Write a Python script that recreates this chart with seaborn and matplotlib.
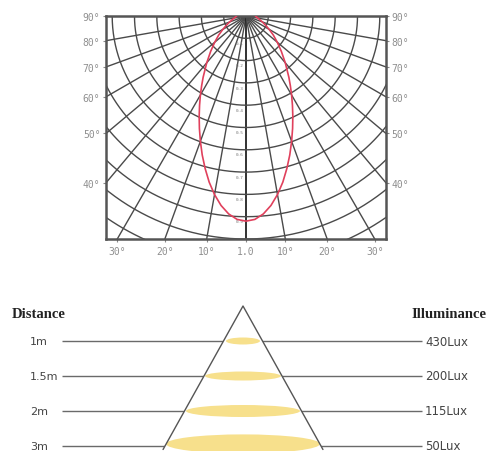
import numpy as np
import pandas as pd
import matplotlib
matplotlib.use("Agg")
import matplotlib.pyplot as plt
from matplotlib.patches import Ellipse, Polygon
import seaborn as sns

# ---------------- data ----------------
# relative luminous intensity (polar curve)
angles_deg = [0, 2.5, 5, 7.5, 10, 12.5, 15, 17.5, 20, 22.5, 25, 27.5, 30, 32.5,
              35, 40, 45, 50, 55, 60, 65, 70, 75, 80, 85, 90]
intensity = [0.920, 0.913, 0.891, 0.857, 0.813, 0.763, 0.708, 0.653, 0.598,
             0.546, 0.497, 0.451, 0.409, 0.370, 0.335, 0.274, 0.224, 0.183,
             0.150, 0.120, 0.096, 0.078, 0.064, 0.054, 0.047, 0.042]

side_tick_angles = [90, 80, 70, 60, 50, 40]
side_tick_labels = ["90°", "80°", "70°", "60°", "50°", "40°"]
bottom_tick_angles = [-30, -20, -10, 0, 10, 20, 30]
bottom_tick_labels = ["30°", "20°", "10°", "1.0", "10°", "20°", "30°"]
grid_angles = [-80, -70, -60, -50, -40, -30, -20, -10, 0, 10, 20, 30, 40, 50, 60, 70, 80]
grid_radii = [0.1, 0.2, 0.3, 0.4, 0.5, 0.6, 0.7, 0.8, 0.9, 1.0, 1.1]
center_labels = ["0.1", "0.2", "0.3", "0.4", "0.5", "0.6", "0.7", "0.8", "0.9"]

distances = ["1m", "1.5m", "2m", "3m"]
illuminance = ["430Lux", "200Lux", "115Lux", "50Lux"]
spot_width = [34, 76, 114, 154]      # px
spot_height = [7, 9, 12, 19]         # px

# ---------------- style ----------------
sns.set_theme(style="white")
plt.rcParams["font.family"] = ["DejaVu Sans"]

W, H = 490, 452
fig = plt.figure(figsize=(W / 100, H / 100), dpi=100)
fig.patch.set_facecolor("white")

# ---------------- top: polar candela diagram ----------------
half_w = 140 / 223
ax = fig.add_axes([106 / W, 1 - 240 / H, 280 / W, 223 / H])
ax.set_xlim(-half_w, half_w)
ax.set_ylim(-1.0, 0.0)
ax.set_facecolor("white")

grid_col = "#4a4a4a"
for a in grid_angles:
    t = np.radians(a)
    lw = 1.3 if a == 0 else 1.0
    c = "#222222" if a == 0 else grid_col
    ax.plot([0, 2 * np.sin(t)], [0, -2 * np.cos(t)], color=c, lw=lw, zorder=1)
tt = np.radians(np.linspace(-90, 90, 361))
for r in grid_radii:
    ax.plot(r * np.sin(tt), -r * np.cos(tt), color=grid_col, lw=1.0, zorder=1)

for r, lab in zip(grid_radii, center_labels):
    ax.text(-0.012, -r - 0.012, lab, fontsize=3.2, color="#777777",
            ha="right", va="top", family="DejaVu Sans Mono", zorder=2)

# polar curve (mirrored)
th = [-a for a in angles_deg[::-1]] + angles_deg[1:]
rr = intensity[::-1] + intensity[1:]
curve = pd.DataFrame({
    "x": [r * np.sin(np.radians(a)) for a, r in zip(th, rr)],
    "y": [-r * np.cos(np.radians(a)) for a, r in zip(th, rr)],
})
sns.lineplot(data=curve, x="x", y="y", sort=False, estimator=None,
             color="#e0405c", lw=1.2, ax=ax, zorder=3)
ax.set_xlabel("")
ax.set_ylabel("")

# ticks
side_y = [0.0 if a == 90 else -half_w / np.tan(np.radians(a)) for a in side_tick_angles]
ax.set_yticks(side_y)
ax.set_yticklabels(side_tick_labels)
ax.set_xticks([np.tan(np.radians(a)) for a in bottom_tick_angles])
ax.set_xticklabels(bottom_tick_labels)
ax.tick_params(axis="both", which="both", length=2, width=0.8, color="#888888",
               labelsize=7, labelcolor="#8f8f8f", pad=2,
               left=True, right=True, bottom=True, labelright=True, labelleft=True)
ax.tick_params(axis="x", pad=3)
for lab in ax.get_xticklabels() + ax.get_yticklabels():
    lab.set_family("DejaVu Sans Mono")
for s in ax.spines.values():
    s.set_color("#555555")
    s.set_linewidth(1.8)
    s.set_visible(True)

# ---------------- bottom: illuminance pyramid ----------------
bx = fig.add_axes([0, 0, 1, 157 / H])
bx.set_xlim(0, W)
row_h = 35.0
bx.set_ylim((452 - 342) / row_h, (295 - 342) / row_h)
bx.axis("off")

cx = 243
slope = 19.5  # px half-width per row
rows = list(range(len(distances)))
bx.hlines(rows, 62, 422, color="#6a6a6a", lw=1.0, zorder=1)

apex_row = -1.0
base_row = 3.1
pyr = Polygon([(cx, apex_row),
               (cx + slope * (base_row - apex_row), base_row),
               (cx - slope * (base_row - apex_row), base_row)],
              closed=True, facecolor="white", edgecolor="none", zorder=2)
bx.add_patch(pyr)
for i, (w_, h_) in enumerate(zip(spot_width, spot_height)):
    yc = rows[i] - (0.06 if i == 3 else 0.0)
    bx.add_patch(Ellipse((cx, yc), w_, h_ / row_h, facecolor="#f7e08c",
                         edgecolor="none", zorder=3))
bx.plot([cx - slope * (base_row - apex_row), cx, cx + slope * (base_row - apex_row)],
        [base_row, apex_row, base_row], color="#555555", lw=1.0, zorder=4)

for i, (d, lx) in enumerate(zip(distances, illuminance)):
    bx.text(30, rows[i], d, fontsize=8, color="#444444", ha="left", va="center")
    bx.text(425, rows[i], lx, fontsize=8.5, color="#444444", ha="left", va="center")

bx.text(12, -0.78, "Distance", fontsize=10.5, fontweight="bold", color="#222222",
        family="Liberation Serif", ha="left", va="center")
bx.text(486, -0.78, "Illuminance", fontsize=10.5, fontweight="bold", color="#222222",
        family="Liberation Serif", ha="right", va="center")

fig.savefig("out.png", dpi=100, facecolor="white")
